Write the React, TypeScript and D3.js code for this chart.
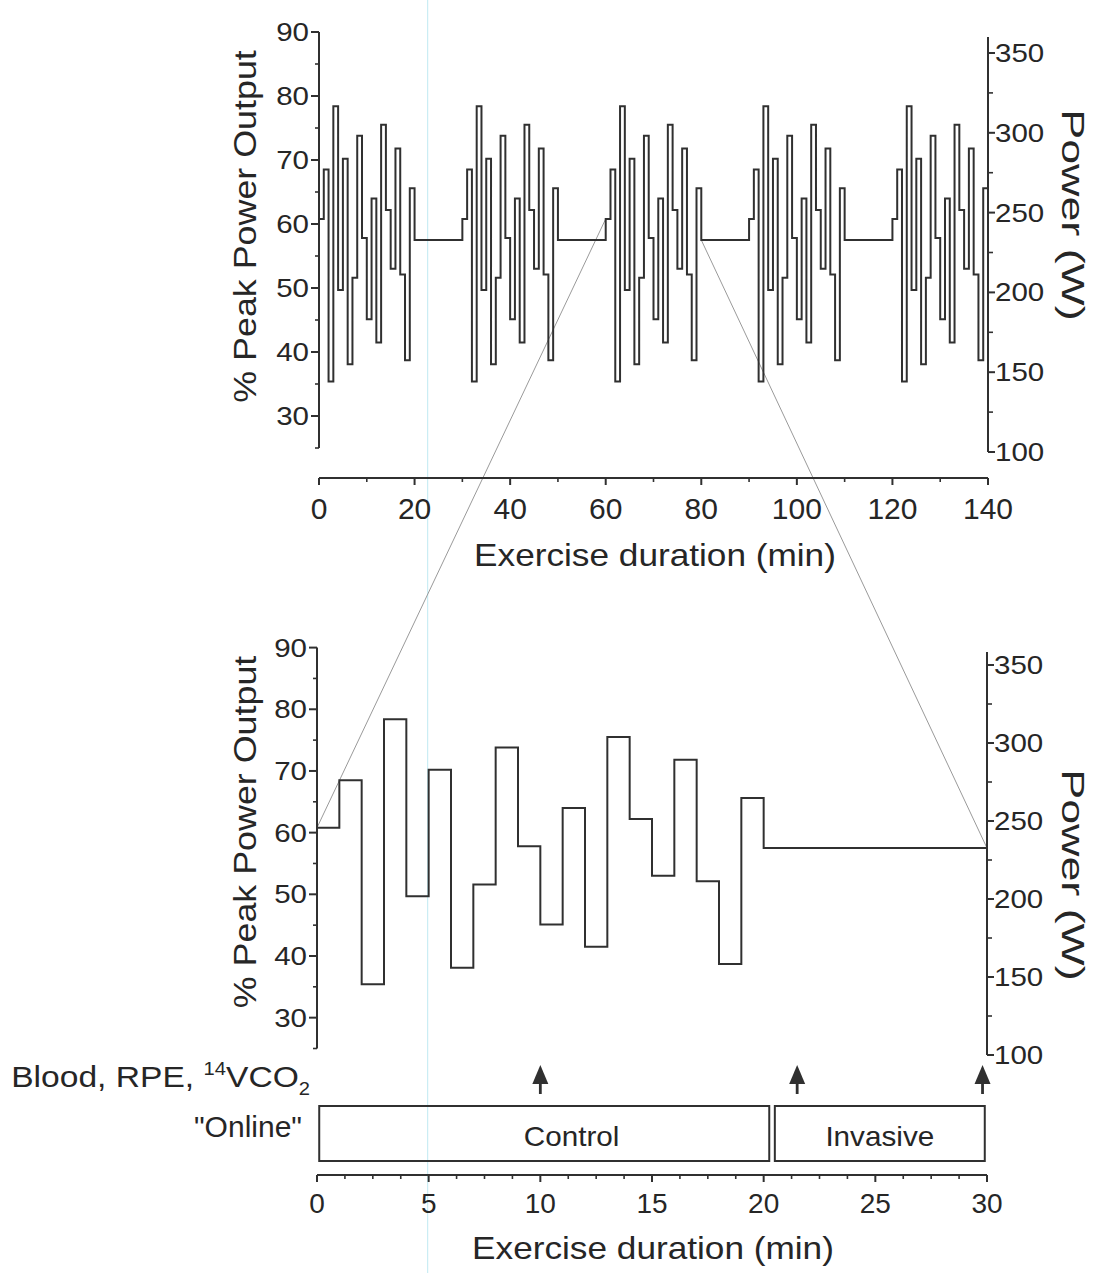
import React from 'react';
import * as d3 from 'd3';

// ---------- data ----------
const stepStart = [0, 1, 2, 3, 4, 5, 6, 7, 8, 9, 10, 11, 12, 13, 14, 15, 16, 17, 18, 19, 20];
const stepLevel = [60.8, 68.5, 35.4, 78.4, 49.7, 70.2, 38.1, 51.6, 73.8, 57.8, 45.1, 64.0, 41.5, 75.5, 62.2, 53.0, 71.8, 52.1, 38.7, 65.6, 57.5];
const protocolEnd = 30;
const blockStart = [0, 30, 60, 90, 120];
const overviewEnd = 140;

const pctTicks = [30, 40, 50, 60, 70, 80, 90];
const pctMinor = [25, 35, 45, 55, 65, 75, 85];
const wattTicks = [100, 150, 200, 250, 300, 350];
const wattMinor = [125, 175, 225, 275, 325];
const topXTicks = [0, 20, 40, 60, 80, 100, 120, 140];
const topXMinor = [10, 30, 50, 70, 90, 110, 130];
const botXTicks = [0, 5, 10, 15, 20, 25, 30];
const botXMinor = [1.25, 2.5, 3.75, 6.25, 7.5, 8.75, 11.25, 12.5, 13.75, 16.25, 17.5, 18.75, 21.25, 22.5, 23.75, 26.25, 27.5, 28.75];

const samplingTimes = [10, 21.5, 29.8];
const phaseLabels = ['Control', 'Invasive'];
const phaseStart = [0.1, 20.5];
const phaseEnd = [20.25, 29.9];
const phaseLabelAt = [11.4, 25.2];

// zoom connectors: overview time -> detail time
const linkTopTime = [60, 80];
const linkBotTime = [0, 30];
const linkLevel = [60.8, 57.5];

// ---------- style ----------
const FONT = "'Liberation Sans', Arial, Helvetica, sans-serif";
const INK = '#262626';
const LINE = '#303030';

// ---------- scales ----------
const xTop = d3.scaleLinear().domain([0, 140]).range([319, 988]);
const yTopL = d3.scaleLinear().domain([25, 90]).range([448, 32]);
const yTopR = d3.scaleLinear().domain([100, 350]).range([452, 53]);
const xBot = d3.scaleLinear().domain([0, 30]).range([317, 987]);
const yBotL = d3.scaleLinear().domain([25, 90]).range([1048.5, 647.6]);
const yBotR = d3.scaleLinear().domain([100, 350]).range([1055, 665]);

type P = [number, number];

const overviewPts: P[] = [];
blockStart.forEach((b) =>
  stepStart.forEach((s, i) => {
    const t = b + s;
    if (t < overviewEnd) overviewPts.push([t, stepLevel[i]]);
  })
);
overviewPts.push([overviewEnd, overviewPts[overviewPts.length - 1][1]]);

const detailPts: P[] = stepStart.map((s, i) => [s, stepLevel[i]] as P);
detailPts.push([protocolEnd, stepLevel[stepLevel.length - 1]]);

const topLine = d3.line<P>().x((d) => xTop(d[0])).y((d) => yTopL(d[1])).curve(d3.curveStepAfter);
const botLine = d3.line<P>().x((d) => xBot(d[0])).y((d) => yBotL(d[1])).curve(d3.curveStepAfter);

function T({ x, y, rot = 0, sx = 1, anchor = 'start', size, children }: any) {
  return (
    <g transform={`translate(${x},${y}) rotate(${rot}) scale(${sx},1)`}>
      <text x={0} y={0} textAnchor={anchor} fontSize={size} fontFamily={FONT} fill={INK}>
        {children}
      </text>
    </g>
  );
}

function LeftAxis({ x, y, top, bottom }: any) {
  return (
    <g>
      <line x1={x} x2={x} y1={top} y2={bottom} stroke={LINE} strokeWidth={2} />
      {pctTicks.map((v) => (
        <line key={'M' + v} x1={x - 8} x2={x} y1={y(v)} y2={y(v)} stroke={LINE} strokeWidth={2} />
      ))}
      {pctMinor.map((v) => (
        <line key={'m' + v} x1={x - 4} x2={x} y1={y(v)} y2={y(v)} stroke={LINE} strokeWidth={1.6} />
      ))}
      {pctTicks.map((v) => (
        <T key={'L' + v} x={x - 10} y={y(v) + 9} anchor="end" size={25} sx={1.18}>
          {v}
        </T>
      ))}
    </g>
  );
}

function RightAxis({ x, y, top, bottom }: any) {
  return (
    <g>
      <line x1={x} x2={x} y1={top} y2={bottom} stroke={LINE} strokeWidth={2} />
      {wattTicks.map((v) => (
        <line key={'M' + v} x1={x} x2={x + 7} y1={y(v)} y2={y(v)} stroke={LINE} strokeWidth={2} />
      ))}
      {wattMinor.map((v) => (
        <line key={'m' + v} x1={x} x2={x + 5} y1={y(v)} y2={y(v)} stroke={LINE} strokeWidth={1.6} />
      ))}
      {wattTicks.map((v) => (
        <T key={'L' + v} x={x + 7} y={y(v) + 9} anchor="start" size={25} sx={1.18}>
          {v}
        </T>
      ))}
    </g>
  );
}

function BottomAxis({ x, y, ticks, minor, labelY, size }: any) {
  const [a, b] = x.range();
  return (
    <g>
      <line x1={a} x2={b} y1={y} y2={y} stroke={LINE} strokeWidth={2} />
      {ticks.map((v: number) => (
        <line key={'M' + v} x1={x(v)} x2={x(v)} y1={y} y2={y + 7} stroke={LINE} strokeWidth={2} />
      ))}
      {minor.map((v: number) => (
        <line key={'m' + v} x1={x(v)} x2={x(v)} y1={y} y2={y + 4} stroke={LINE} strokeWidth={1.6} />
      ))}
      {ticks.map((v: number) => (
        <T key={'L' + v} x={x(v)} y={labelY} anchor="middle" size={size}>
          {v}
        </T>
      ))}
    </g>
  );
}

export default function App() {
  return (
    <svg
      width={1093}
      height={1273}
      viewBox="0 0 1093 1273"
      style={{ position: 'absolute', left: 0, top: 0, background: '#fff' }}
    >
      <rect x={0} y={0} width={1093} height={1273} fill="#ffffff" />
      {/* scan artefact */}
      <line x1={427.7} x2={427.7} y1={0} y2={1273} stroke="#bfe9f2" strokeWidth={1} />

      {/* zoom connectors */}
      {linkTopTime.map((t, i) => (
        <line
          key={'lk' + i}
          x1={xTop(t)}
          y1={yTopL(linkLevel[i])}
          x2={xBot(linkBotTime[i])}
          y2={yBotL(linkLevel[i])}
          stroke="#9a9a9a"
          strokeWidth={1}
        />
      ))}

      {/* ---------- overview chart ---------- */}
      <path d={topLine(overviewPts) || ''} fill="none" stroke={LINE} strokeWidth={2} />
      <LeftAxis x={319} y={yTopL} top={yTopL(90)} bottom={yTopL(25)} />
      <RightAxis x={988} y={yTopR} top={37} bottom={yTopR(100)} />
      <BottomAxis x={xTop} y={478} ticks={topXTicks} minor={topXMinor} labelY={518.7} size={30} />
      <T x={655} y={566} anchor="middle" size={32} sx={1.1}>
        Exercise duration (min)
      </T>
      <T x={256} y={226.5} rot={-90} anchor="middle" size={32} sx={1.12}>
        % Peak Power Output
      </T>
      <T x={1062} y={215} rot={90} anchor="middle" size={32} sx={1.4}>
        Power (W)
      </T>

      {/* ---------- detail chart ---------- */}
      <path d={botLine(detailPts) || ''} fill="none" stroke={LINE} strokeWidth={2} />
      <LeftAxis x={317} y={yBotL} top={yBotL(90)} bottom={yBotL(25)} />
      <RightAxis x={987} y={yBotR} top={652} bottom={yBotR(100)} />
      <T x={256} y={832} rot={-90} anchor="middle" size={32} sx={1.12}>
        % Peak Power Output
      </T>
      <T x={1062} y={875} rot={90} anchor="middle" size={32} sx={1.4}>
        Power (W)
      </T>

      {/* sampling arrows */}
      <T x={310} y={1087} anchor="end" size={30} sx={1.12}>
        Blood, RPE,{' '}
        <tspan fontSize={18} dy={-12}>
          14
        </tspan>
        <tspan dy={12}>VCO</tspan>
        <tspan fontSize={18} dy={8}>
          2
        </tspan>
      </T>
      {samplingTimes.map((t, i) => {
        const x = xBot(t);
        return (
          <g key={'ar' + i}>
            <line x1={x} x2={x} y1={1078} y2={1094} stroke={LINE} strokeWidth={2.8} />
            <path d={`M${x},1065 L${x + 8},1084 L${x - 8},1084 Z`} fill={LINE} />
          </g>
        );
      })}

      {/* phase boxes */}
      <T x={302} y={1137} anchor="end" size={30}>
        "Online"
      </T>
      {phaseLabels.map((lab, i) => (
        <g key={lab}>
          <rect
            x={xBot(phaseStart[i])}
            y={1106}
            width={xBot(phaseEnd[i]) - xBot(phaseStart[i])}
            height={55}
            fill="none"
            stroke={LINE}
            strokeWidth={2}
          />
          <T x={xBot(phaseLabelAt[i])} y={1146} anchor="middle" size={28} sx={1.06}>
            {lab}
          </T>
        </g>
      ))}

      <BottomAxis x={xBot} y={1175} ticks={botXTicks} minor={botXMinor} labelY={1213} size={28} />
      <T x={653} y={1259} anchor="middle" size={32} sx={1.1}>
        Exercise duration (min)
      </T>
    </svg>
  );
}
